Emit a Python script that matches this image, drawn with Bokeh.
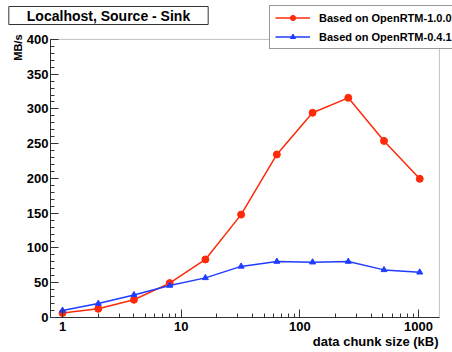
import math
from bokeh.plotting import figure
from bokeh.models import (Legend, LegendItem, FixedTicker, ColumnDataSource,
                          Range1d, Title, BoxAnnotation)
from bokeh.core.properties import value
from bokeh.embed import file_html
from bokeh.resources import INLINE

# ---- data ----
chunk_kb = [1, 2, 4, 8, 16, 32, 64, 128, 256, 512, 1024]
mbps_rtm100 = [6.5, 12.5, 25.5, 49.5, 83.5, 148, 234.5, 294.5, 316, 254, 199.5]
mbps_rtm041 = [10, 20, 32.5, 46, 57, 73.5, 80.5, 79.5, 80.5, 68.5, 65]
series_names = ["Based on OpenRTM-1.0.0", "Based on OpenRTM-0.4.1"]
title_text = "Localhost, Source - Sink"
x_title = "data chunk size (kB)"
y_title = "MB/s"
x_major = [1, 10, 100, 1000]
y_major = [0, 50, 100, 150, 200, 250, 300, 350, 400]

# axis extents (ROOT frame box) and the wider drawing area around it
X_MIN, X_MAX = 0.792, 1500
Y_MIN, Y_MAX = 0, 400
X_VIEW_END, Y_VIEW_END = 1934, 456

RED = "#ff2a0a"
BLUE = "#1f3cff"
AXC = "#333333"
FONT = "Liberation Sans"

p = figure(width=452, height=352, x_axis_type="log",
           x_range=Range1d(X_MIN, X_VIEW_END), y_range=Range1d(Y_MIN, Y_VIEW_END),
           output_backend="svg", toolbar_location=None,
           min_border_left=50, min_border_right=0, min_border_top=0,
           min_border_bottom=35)
p.grid.visible = False
p.outline_line_color = None
p.background_fill_color = "white"
p.border_fill_color = "white"

# ROOT-style frame box
p.add_layout(BoxAnnotation(left=X_MIN, right=X_MAX, bottom=Y_MIN, top=Y_MAX,
                           fill_alpha=0, line_color=AXC, line_width=1))

src = ColumnDataSource(dict(x=chunk_kb, a=mbps_rtm100, b=mbps_rtm041))
l1 = p.line("x", "a", source=src, color=RED, line_width=1.5)
m1 = p.scatter("x", "a", source=src, marker="circle", size=7, color=RED)
l2 = p.line("x", "b", source=src, color=BLUE, line_width=1.5)
m2 = p.scatter("x", "b", source=src, marker="triangle", size=6, color=BLUE)

# axes
x_minor = [m * d for d in [1, 10, 100, 1000] for m in range(2, 10) if m * d < X_MAX]
p.xaxis.ticker = FixedTicker(ticks=x_major, minor_ticks=x_minor)
y_minor = list(range(0, 401, 10))
p.yaxis.ticker = FixedTicker(ticks=y_major, minor_ticks=y_minor)
p.xaxis.bounds = (X_MIN, X_MAX)
p.yaxis.bounds = (Y_MIN, Y_MAX)
for ax in (p.xaxis[0], p.yaxis[0]):
    ax.major_tick_in = 8
    ax.major_tick_out = 0
    ax.minor_tick_in = 4
    ax.minor_tick_out = 0
    ax.axis_line_color = AXC
    ax.major_tick_line_color = AXC
    ax.minor_tick_line_color = AXC
    ax.major_label_text_font = FONT
    ax.major_label_text_font_style = "bold"
    ax.major_label_text_font_size = "13px"
    ax.major_label_text_color = "black"
p.xaxis.major_label_standoff = 4
p.yaxis.major_label_standoff = 2
p.xaxis.major_label_overrides = {1: "1", 10: "10", 100: "100", 1000: "1000"}

# axis titles
p.add_layout(Title(text=x_title, align="right", offset=14, vertical_align="top",
                   standoff=0, text_font=FONT, text_font_style="bold",
                   text_font_size="13px", text_color="black"), "below")
p.add_layout(Title(text=y_title, align="right", offset=34, vertical_align="bottom",
                   standoff=0, text_font=FONT, text_font_style="bold",
                   text_font_size="11px", text_color="black"), "left")

# title box (drawn above everything, not clipped)
tsrc = ColumnDataSource(dict(x=[X_MIN], y=[Y_VIEW_END], t=[title_text]))
p.text("x", "y", text="t", source=tsrc, x_offset=58, y_offset=15,
       text_align="center", text_baseline="middle", text_font=value(FONT),
       text_font_style="bold", text_font_size="14px", text_color="black",
       background_fill_color="white", border_line_color=AXC,
       border_line_width=1, padding=(18, 1), level="overlay")

# legend
legend = Legend(items=[LegendItem(label=series_names[0], renderers=[l1, m1]),
                       LegendItem(label=series_names[1], renderers=[l2, m2])],
                location=(219, 268), orientation="vertical",
                label_text_font=FONT, label_text_font_style="bold",
                label_text_font_size="11px", label_text_color="black",
                glyph_width=35, glyph_height=13, label_height=13,
                label_standoff=9, spacing=6, padding=5, margin=0,
                border_line_color=AXC, border_line_width=1,
                background_fill_color="white", background_fill_alpha=1.0)
p.add_layout(legend, "center")

open("out.html", "w").write(file_html(p, INLINE))
